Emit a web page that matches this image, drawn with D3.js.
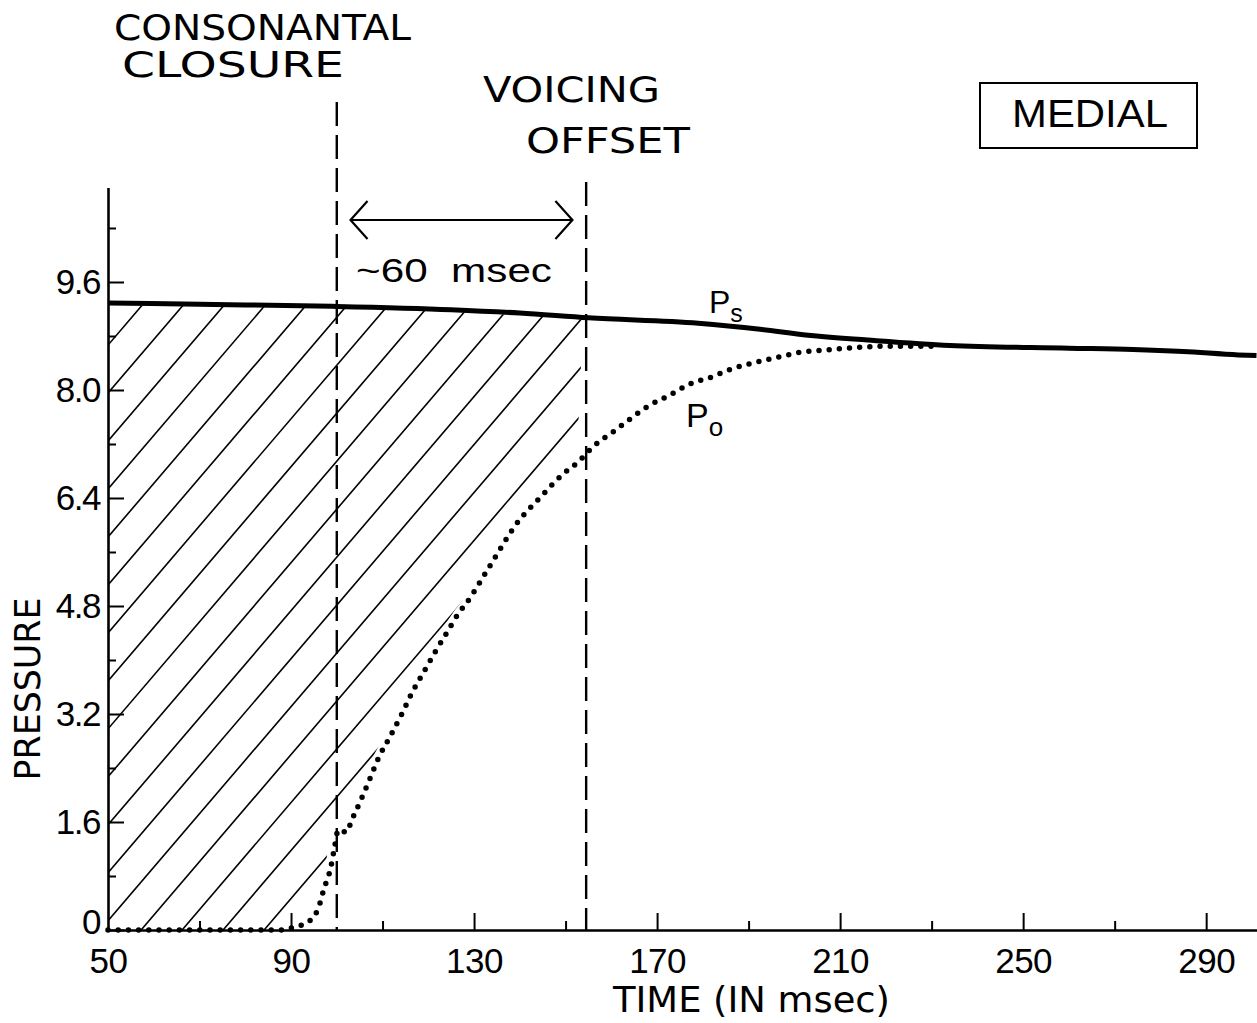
<!DOCTYPE html>
<html>
<head>
<meta charset="utf-8">
<script src="https://cdn.jsdelivr.net/npm/d3@7"></script>
<style>
  html, body { margin: 0; padding: 0; background: #fff; }
  svg { display: block; }
</style>
</head>
<body>
<svg id="chart" width="1257" height="1023"></svg>
<script>
// ---------- data ----------
const xTicks = [50, 90, 130, 170, 210, 250, 290];
const xMinorTicks = [70, 110, 150, 190, 230, 270];
const yTicks = [0, 1.6, 3.2, 4.8, 6.4, 8.0, 9.6];
const yTickLabels = ["0", "1.6", "3.2", "4.8", "6.4", "8.0", "9.6"];
const yMinorTicks = [0.8, 2.4, 4.0, 5.6, 7.2, 8.8, 10.4];

// subglottal pressure Ps (solid)
const psTime  = [50, 70, 99, 125, 140, 155, 179, 192.5, 203, 216, 234, 260, 274, 285, 297, 301];
const psValue = [9.29, 9.27, 9.24, 9.19, 9.14, 9.07, 8.99, 8.90, 8.81, 8.74, 8.66, 8.62, 8.60, 8.57, 8.52, 8.51];

// oral pressure Po (dotted)
const poTime  = [50, 88, 91, 93.3, 95.9, 97.2, 98.7, 99.6, 100.3, 102.2, 103.1, 105.3, 107.3, 109.2, 111.6,
                 114.3, 116.4, 118.9, 121.5, 124.1, 126.7, 128.3, 133.7, 139.2, 144.9, 149.5, 152.7, 156.0,
                 160.4, 164.1, 168.0, 172.4, 177.2, 181.8, 186.2, 191.6, 196.7, 201.5, 206.5, 211.3, 216.1, 222, 232];
const poValue = [0, 0, 0.05, 0.10, 0.31, 0.61, 0.93, 1.26, 1.48, 1.45, 1.60, 1.93, 2.25, 2.56, 2.86,
                 3.21, 3.51, 3.81, 4.12, 4.41, 4.70, 4.84, 5.42, 6.01, 6.44, 6.76, 6.93, 7.16,
                 7.38, 7.57, 7.76, 7.91, 8.09, 8.19, 8.31, 8.41, 8.49, 8.56, 8.59, 8.62, 8.64, 8.65, 8.65];

const closureTime = 100;         // consonantal closure
const voicingOffsetTime = 154.5; // voicing offset
const arrowSpan = [103, 151.5];

// ---------- setup ----------
const svg = d3.select("#chart");
const x = d3.scaleLinear().domain([50, 301]).range([108, 1256.5]);
const y = d3.scaleLinear().domain([0, 11]).range([930, 187.5]);

const narrow = "'Liberation Sans Narrow', 'DejaVu Sans Condensed', 'Liberation Sans', sans-serif";
const regular = "'Liberation Sans', Arial, Helvetica, sans-serif";

const psData = psTime.map((t, i) => ({t, v: psValue[i]}));
const poData = poTime.map((t, i) => ({t, v: poValue[i]}));
const psAt = d3.scaleLinear().domain(psTime).range(psValue);
const poAt = d3.scaleLinear().domain(poTime).range(poValue);

// ---------- hatched region (between Ps and Po, up to voicing offset) ----------
const hatchData = poData.filter(d => d.t < voicingOffsetTime)
  .concat([{t: voicingOffsetTime - 0.7, v: poAt(voicingOffsetTime - 0.7)}]);
const clipArea = d3.area()
  .curve(d3.curveMonotoneX)
  .x0(d => Math.max(x(d.t) - 6, x(50)))
  .x1(d => x(d.t))
  .y0(d => y(d.v))
  .y1(d => y(psAt(d.t)) + 2);
svg.append("clipPath").attr("id", "hatchClip")
  .append("path").attr("d", clipArea(hatchData));

const slope = 1.17;         // dy/dx of hatch strokes
const spacing = 41;         // horizontal spacing along the baseline
const hatchStarts = d3.range(-15, 12).map(k => x(56.3) + spacing * k);
const gH = svg.append("g").attr("clip-path", "url(#hatchClip)");
const yBase = y(0), yTop = y(9.6);
gH.selectAll("line").data(hatchStarts).join("line")
  .attr("x1", d => d).attr("y1", yBase + 5)
  .attr("x2", d => d + (yBase - yTop + 40) / slope).attr("y2", yTop - 35)
  .attr("stroke", "#000").attr("stroke-width", 1.6);

// ---------- axes ----------
const yAxis = d3.axisLeft(y).tickValues(yTicks)
  .tickFormat((d, i) => yTickLabels[i]).tickSizeInner(-16).tickSizeOuter(0).tickPadding(8);
const gy = svg.append("g").attr("transform", `translate(${x(50)},0)`).call(yAxis);
gy.select(".domain").attr("stroke-width", 2.6);
gy.selectAll(".tick line").attr("stroke-width", 2);
gy.selectAll(".tick text").attr("font-family", regular).attr("font-size", 35)
  .attr("letter-spacing", -1.5).attr("fill", "#000");
gy.selectAll(".tick").filter(d => d === 0).select("text").attr("dy", "0.1em");

const yMinor = d3.axisLeft(y).tickValues(yMinorTicks).tickFormat("").tickSizeInner(-8).tickSizeOuter(0);
const gym = svg.append("g").attr("transform", `translate(${x(50)},0)`).call(yMinor);
gym.select(".domain").remove();
gym.selectAll(".tick line").attr("stroke-width", 2);

const xAxis = d3.axisBottom(x).tickValues(xTicks).tickFormat(d3.format("d"))
  .tickSizeInner(-17).tickSizeOuter(0).tickPadding(18);
const gx = svg.append("g").attr("transform", `translate(0,${y(0)})`).call(xAxis);
gx.select(".domain").attr("stroke-width", 2.6);
gx.selectAll(".tick line").attr("stroke-width", 2);
gx.selectAll(".tick text").attr("font-family", regular).attr("font-size", 35)
  .attr("letter-spacing", -0.5).attr("fill", "#000");
gx.selectAll(".tick").filter(d => d === 50).select("line").remove();

const xMinor = d3.axisBottom(x).tickValues(xMinorTicks).tickFormat("").tickSizeInner(-9).tickSizeOuter(0);
const gxm = svg.append("g").attr("transform", `translate(0,${y(0)})`).call(xMinor);
gxm.select(".domain").remove();
gxm.selectAll(".tick line").attr("stroke-width", 2);

// axis titles
svg.append("text")
  .attr("x", 613).attr("y", 1012)
  .attr("font-family", narrow).attr("font-size", 36)
  .attr("textLength", 277).attr("lengthAdjust", "spacingAndGlyphs")
  .text("TIME (IN msec)");
svg.append("text")
  .attr("transform", "translate(40,689) rotate(-90)")
  .attr("text-anchor", "middle")
  .attr("font-family", narrow).attr("font-size", 35)
  .attr("textLength", 183).attr("lengthAdjust", "spacingAndGlyphs")
  .text("PRESSURE");

// ---------- event lines ----------
const events = [
  {t: closureTime, top: 102},
  {t: voicingOffsetTime, top: 182}
];
svg.selectAll("line.event").data(events).join("line").attr("class", "event")
  .attr("x1", d => x(d.t)).attr("x2", d => x(d.t))
  .attr("y1", d => d.top).attr("y2", y(0))
  .attr("stroke", "#000").attr("stroke-width", 2.4)
  .attr("stroke-dasharray", "24 9");

// double arrow
const ay = 220;
const ax1 = x(arrowSpan[0]), ax2 = x(arrowSpan[1]);
const gA = svg.append("g").attr("stroke", "#000").attr("stroke-width", 2.2).attr("fill", "none");
gA.append("line").attr("x1", ax1).attr("x2", ax2).attr("y1", ay).attr("y2", ay);
gA.append("path").attr("d", `M${ax1 + 17},${ay - 19} L${ax1},${ay} L${ax1 + 17},${ay + 19}`);
gA.append("path").attr("d", `M${ax2 - 17},${ay - 19} L${ax2},${ay} L${ax2 - 17},${ay + 19}`);

svg.append("text")
  .attr("x", 356).attr("y", 282)
  .attr("font-family", regular).attr("font-size", 33)
  .attr("textLength", 196).attr("lengthAdjust", "spacingAndGlyphs")
  .attr("xml:space", "preserve")
  .text("~60  msec");

// ---------- curves ----------
const line = d3.line().curve(d3.curveMonotoneX).x(d => x(d.t)).y(d => y(d.v));
svg.append("path").attr("d", line(poData))
  .attr("fill", "none").attr("stroke", "#000").attr("stroke-width", 5.5)
  .attr("stroke-linecap", "round").attr("stroke-dasharray", "0 10.2");
svg.append("path").attr("d", line(psData))
  .attr("fill", "none").attr("stroke", "#000").attr("stroke-width", 5)
  .attr("stroke-linejoin", "round");

// curve labels
const psLab = svg.append("text").attr("x", 709).attr("y", 313)
  .attr("font-family", regular).attr("font-size", 32);
psLab.append("tspan").text("P");
psLab.append("tspan").attr("dy", 9).attr("font-size", 25).text("s");
const poLab = svg.append("text").attr("x", 686).attr("y", 427)
  .attr("font-family", regular).attr("font-size", 34);
poLab.append("tspan").text("P");
poLab.append("tspan").attr("dy", 9).attr("font-size", 26).text("o");

// ---------- annotations ----------
const titles = [
  {text: "CONSONANTAL", x: 114, y: 40, len: 297, size: 35},
  {text: "CLOSURE", x: 122, y: 77, len: 222, size: 35},
  {text: "VOICING", x: 483, y: 102, len: 177, size: 36},
  {text: "OFFSET", x: 526, y: 153, len: 164, size: 36}
];
svg.selectAll("text.title").data(titles).join("text").attr("class", "title")
  .attr("x", d => d.x).attr("y", d => d.y)
  .attr("font-family", narrow).attr("font-size", d => d.size)
  .attr("textLength", d => d.len).attr("lengthAdjust", "spacingAndGlyphs")
  .text(d => d.text);

svg.append("rect").attr("x", 980).attr("y", 83).attr("width", 217).attr("height", 65)
  .attr("fill", "none").attr("stroke", "#000").attr("stroke-width", 2);
svg.append("text").attr("x", 1012).attr("y", 127)
  .attr("font-family", regular).attr("font-size", 39)
  .attr("textLength", 156).attr("lengthAdjust", "spacingAndGlyphs")
  .text("MEDIAL");
</script>
</body>
</html>
